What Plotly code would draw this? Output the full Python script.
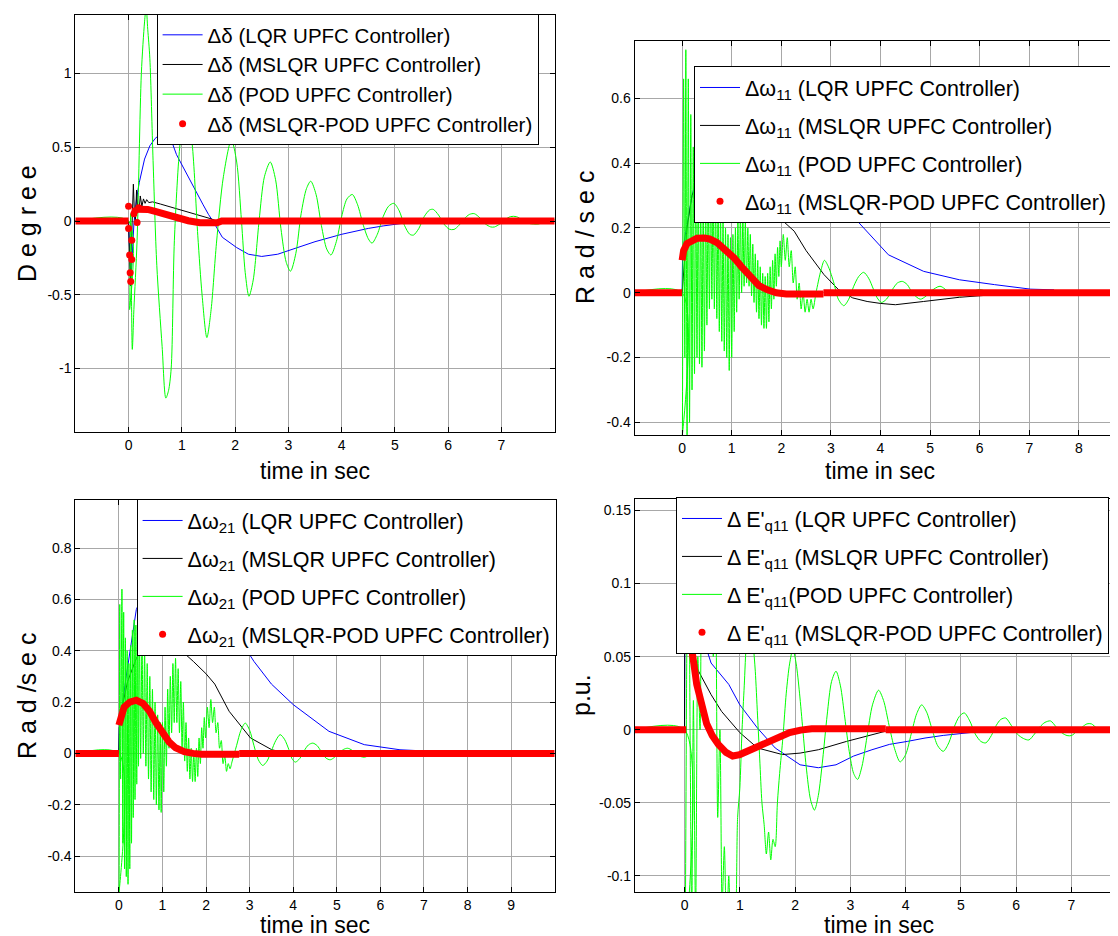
import plotly.graph_objects as go

# ---------------- DATA ----------------
# Top-left: Delta delta (Degree)
tl_blue_t = [-1, 0, 0.02, 0.04, 0.06, 0.1, 0.15, 0.2, 0.3, 0.4, 0.5, 0.6, 0.7, 0.8, 0.9, 1.0, 1.1, 1.2, 1.3, 1.4, 1.5, 1.6, 1.76, 2.03, 2.25, 2.5, 2.8, 3.1, 3.5, 4.0, 4.5, 4.78, 5.0, 5.3]
tl_blue_y = [0, 0, -0.2, -0.4, -0.3, -0.02, 0.15, 0.26, 0.42, 0.51, 0.56, 0.59, 0.6, 0.55, 0.45, 0.38, 0.31, 0.245, 0.18, 0.11, 0.045, -0.01, -0.11, -0.18, -0.225, -0.24, -0.225, -0.19, -0.14, -0.09, -0.05, -0.033, -0.022, -0.008]
tl_black_t = [-1, 0, 0.02, 0.035, 0.05, 0.07, 0.09, 0.11, 0.13, 0.15, 0.17, 0.2, 0.22, 0.25, 0.28, 0.31, 0.34, 0.38, 0.45, 0.6, 0.8, 1.0, 1.2, 1.4, 1.55, 1.65, 8]
tl_black_y = [0, 0, -0.25, -0.44, -0.2, 0.1, 0.25, 0.05, 0.0, 0.21, 0.1, 0.08, 0.17, 0.1, 0.15, 0.12, 0.145, 0.125, 0.13, 0.115, 0.095, 0.075, 0.055, 0.033, 0.015, 0.0, 0]
tl_green_t = [-1, 0, 0.02, 0.04, 0.07, 0.1, 0.16, 0.24, 0.3, 0.33, 0.36, 0.4, 0.46, 0.53, 0.63, 0.7, 0.75, 0.8, 0.86, 0.96, 1.08, 1.2, 1.3, 1.38, 1.47, 1.55, 1.65, 1.78, 1.93, 2.03, 2.12, 2.19, 2.26, 2.34, 2.45, 2.55, 2.66, 2.76, 2.86, 2.96, 3.04, 3.14, 3.24, 3.34, 3.42, 3.52, 3.62, 3.72, 3.8, 3.9, 4.0, 4.1, 4.2, 4.3, 4.4, 4.5, 4.57, 4.67, 4.78, 4.88, 4.98, 5.08, 5.18, 5.28, 5.35, 5.45, 5.55, 5.65, 5.72, 5.82, 5.92, 6.02, 6.11, 6.2, 6.3, 6.4, 6.49, 6.6, 6.7, 6.8, 6.87, 6.97, 7.07, 7.17, 7.28, 7.4, 7.5, 7.6, 7.7, 7.8, 7.9, 8.0]
tl_green_y = [0, 0, -0.6, 0.05, -0.87, -0.6, -0.13, 1.0, 1.35, 1.45, 1.3, 1.1, 0.41, -0.3, -0.85, -1.2, -1.15, -1.0, -0.13, 0.5, 0.85, 0.5, -0.1, -0.5, -0.79, -0.6, -0.15, 0.3, 0.55, 0.4, 0.0, -0.35, -0.51, -0.4, 0.0, 0.3, 0.40, 0.28, -0.05, -0.28, -0.34, -0.22, 0.05, 0.22, 0.27, 0.18, -0.03, -0.19, -0.23, -0.14, 0.03, 0.15, 0.18, 0.11, -0.02, -0.12, -0.15, -0.09, 0.03, 0.1, 0.12, 0.07, -0.03, -0.09, -0.095, -0.05, 0.03, 0.075, 0.079, 0.04, -0.02, -0.055, -0.057, -0.03, 0.015, 0.045, 0.05, 0.02, -0.02, -0.04, -0.04, -0.02, 0.01, 0.03, 0.03, 0.005, -0.015, -0.02, -0.02, -0.005, 0.01, 0.01]
tl_red_t = [-1, 0, None, 0.15, 0.25, 0.36, 0.5, 0.65, 0.81, 1.0, 1.12, 1.34, 1.5, 1.66, 1.75, 8]
tl_red_y = [0, 0, None, 0.08, 0.085, 0.079, 0.065, 0.048, 0.034, 0.012, 0.002, -0.012, -0.014, -0.012, 0.0, 0]
tl_dots_t = [0.0, 0.0, 0.02, 0.03, 0.04, 0.06, 0.06, 0.1, 0.12, 0.16, 0.19]
tl_dots_y = [0.1, -0.05, -0.23, -0.35, -0.41, -0.13, -0.26, 0.05, 0.07, -0.01, 0.09]

# Top-right: Delta omega 11 (Rad/sec)
tr_blue_t = [-1, 0, 0.01, 0.2, 0.4, 0.6, 0.8, 1.0, 1.08, 1.36, 1.65, 2.0, 2.5, 3.0, 3.3, 3.66, 4.16, 4.87, 5.59, 6.3, 7.03, 7.5]
tr_blue_y = [0, 0, 0.13, 0.3, 0.42, 0.52, 0.6, 0.66, 0.678, 0.695, 0.678, 0.62, 0.47, 0.33, 0.26, 0.2, 0.117, 0.066, 0.04, 0.025, 0.011, 0.009]
tr_black_t = [-1, 0, 0.1, 0.2, 0.4, 0.6, 0.8, 1.0, 1.3, 1.6, 1.9, 2.26, 2.5, 2.86, 3.15, 3.44, 3.73, 4.0, 4.3, 4.87, 5.59, 6.3, 6.8]
tr_black_y = [0, 0, 0.2, 0.3, 0.37, 0.39, 0.39, 0.37, 0.34, 0.29, 0.24, 0.19, 0.13, 0.056, 0.01, -0.016, -0.027, -0.033, -0.037, -0.027, -0.014, -0.006, -0.002]
tr_green_t = [-1, 0, 0.005, 0.03, 0.055, 0.075, 0.1, 0.125, 0.15, 0.175, 0.2, 0.225, 0.25, 0.275, 0.3, 0.325, 0.35, 0.375, 0.4, 0.425, 0.45, 0.475, 0.5, 0.525, 0.55, 0.575, 0.6, 0.625, 0.65, 0.675, 0.7, 0.725, 0.75, 0.775, 0.8, 0.825, 0.85, 0.875, 0.9, 0.925, 0.95, 0.975, 1.0, 1.025, 1.05, 1.075, 1.1, 1.125, 1.15, 1.175, 1.2, 1.225, 1.25, 1.275, 1.3, 1.325, 1.35, 1.375, 1.4, 1.425, 1.45, 1.475, 1.5, 1.525, 1.55, 1.575, 1.6, 1.625, 1.65, 1.675, 1.7, 1.725, 1.75, 1.775, 1.8, 1.825, 1.85, 1.875, 1.9, 1.925, 1.95, 1.975, 2.0, 2.04, 2.08, 2.12, 2.16, 2.2, 2.24, 2.28, 2.32, 2.36, 2.4, 2.44, 2.48, 2.52, 2.56, 2.6, 2.64, 2.7, 2.8, 2.87, 2.95, 3.06, 3.15, 3.26, 3.36, 3.46, 3.56, 3.66, 3.76, 3.86, 3.93, 4.02, 4.12, 4.24, 4.34, 4.44, 4.54, 4.64, 4.8, 4.92, 5.02, 5.2, 5.4, 5.6, 5.8, 6.0, 6.2, 6.4, 6.7]
tr_green_y = [0, 0, -0.44, 0.66, -0.2, 0.75, -0.44, 0.66, -0.40, 0.55, -0.30, 0.45, -0.25, 0.40, -0.20, 0.35, -0.22, 0.30, -0.23, 0.28, -0.18, 0.30, -0.10, 0.32, -0.05, 0.35, -0.02, 0.33, -0.05, 0.30, -0.08, 0.28, -0.12, 0.25, -0.15, 0.22, -0.18, 0.20, -0.20, 0.18, -0.24, 0.17, -0.20, 0.18, -0.12, 0.20, -0.06, 0.22, -0.02, 0.25, 0.0, 0.24, 0.02, 0.22, 0.03, 0.20, 0.02, 0.18, -0.01, 0.15, -0.03, 0.12, -0.06, 0.10, -0.08, 0.08, -0.10, 0.06, -0.11, 0.05, -0.11, 0.06, -0.09, 0.08, -0.05, 0.10, -0.02, 0.12, 0.02, 0.14, 0.05, 0.16, 0.08, 0.18, 0.10, 0.17, 0.08, 0.13, 0.03, 0.08, -0.02, 0.03, -0.05, 0.0, -0.06, -0.02, -0.06, -0.02, -0.05, 0.0, 0.07, 0.10, 0.08, 0.03, -0.02, -0.04, -0.02, 0.02, 0.05, 0.063, 0.045, 0.01, -0.015, -0.03, -0.02, 0.01, 0.03, 0.035, 0.025, 0.0, -0.02, -0.01, 0.005, 0.02, 0.0, -0.01, 0.0, 0.01, 0.0, -0.005, 0.0]
tr_red_t = [-1, 0, None, 0, 0.03, 0.1, 0.2, 0.3, 0.45, 0.55, 0.7, 0.86, 1.05, 1.2, 1.39, 1.55, 1.72, 1.9, 2.1, 2.85, None, 2.85, 9]
tr_red_y = [0, 0, None, 0.10, 0.13, 0.152, 0.163, 0.168, 0.169, 0.166, 0.155, 0.135, 0.107, 0.08, 0.045, 0.022, 0.009, 0.0, -0.004, -0.004, None, 0, 0]

# Bottom-left: Delta omega 21 (Rad/sec)
bl_blue_t = [-1, 0, 0.01, 0.16, 0.4, 0.7, 1.0, 1.4, 1.8, 2.2, 2.6, 3.1, 3.5, 4.0, 4.82, 5.63, 6.45, 7.19]
bl_blue_y = [0, 0, 0.1, 0.29, 0.56, 0.68, 0.74, 0.76, 0.72, 0.62, 0.49, 0.358, 0.27, 0.19, 0.086, 0.034, 0.014, 0.008]
bl_black_t = [-1, 0, 0.01, 0.1, 0.2, 0.4, 0.6, 0.9, 1.2, 1.5, 1.71, 2.0, 2.2, 2.53, 3.02, 3.51, 4.0, 4.82, 5.63, 6.45, 6.9]
bl_black_y = [0, 0, 0.1, 0.2, 0.28, 0.37, 0.42, 0.44, 0.43, 0.39, 0.358, 0.31, 0.27, 0.164, 0.06, 0.014, -0.005, -0.01, -0.005, -0.003, -0.001]
bl_green_t = [-1, 0, 0.005, 0.02, 0.04, 0.07, 0.09, 0.11, 0.13, 0.15, 0.17, 0.19, 0.21, 0.23, 0.25, 0.27, 0.29, 0.31, 0.33, 0.35, 0.37, 0.39, 0.41, 0.43, 0.45, 0.47, 0.50, 0.53, 0.56, 0.59, 0.62, 0.65, 0.68, 0.71, 0.74, 0.77, 0.80, 0.83, 0.86, 0.89, 0.92, 0.95, 0.97, 1.00, 1.03, 1.06, 1.09, 1.12, 1.15, 1.18, 1.21, 1.24, 1.27, 1.30, 1.33, 1.36, 1.39, 1.42, 1.45, 1.48, 1.51, 1.54, 1.57, 1.60, 1.63, 1.66, 1.69, 1.72, 1.75, 1.78, 1.81, 1.84, 1.87, 1.90, 1.93, 1.96, 1.99, 2.03, 2.07, 2.11, 2.15, 2.19, 2.23, 2.27, 2.31, 2.35, 2.39, 2.43, 2.47, 2.51, 2.55, 2.6, 2.7, 2.8, 2.9, 3.0, 3.1, 3.2, 3.3, 3.4, 3.5, 3.6, 3.7, 3.8, 3.9, 3.97, 4.05, 4.15, 4.25, 4.35, 4.45, 4.55, 4.65, 4.75, 4.85, 4.95, 5.05, 5.15, 5.25, 5.35, 5.45, 5.63, 5.8, 6.05, 6.3, 6.5, 6.7]
bl_green_y = [0, 0, -0.54, 0.58, -0.1, 0.64, -0.35, 0.55, -0.45, 0.45, -0.48, 0.40, -0.51, 0.35, -0.45, 0.42, -0.35, 0.48, -0.25, 0.52, -0.18, 0.50, -0.12, 0.48, -0.05, 0.50, -0.02, 0.45, 0.0, 0.40, -0.05, 0.35, -0.10, 0.30, -0.15, 0.25, -0.18, 0.20, -0.20, 0.15, -0.22, 0.12, -0.23, 0.12, -0.15, 0.18, -0.05, 0.25, 0.02, 0.30, 0.08, 0.35, 0.12, 0.37, 0.12, 0.33, 0.08, 0.28, 0.02, 0.20, -0.03, 0.12, -0.07, 0.06, -0.10, 0.02, -0.11, 0.0, -0.11, 0.02, -0.09, 0.06, -0.04, 0.10, 0.02, 0.14, 0.06, 0.18, 0.10, 0.21, 0.12, 0.18, 0.08, 0.12, 0.02, 0.05, -0.04, -0.01, -0.07, -0.04, -0.06, -0.03, 0.03, 0.09, 0.118, 0.09, 0.03, -0.025, -0.047, -0.03, 0.01, 0.05, 0.073, 0.055, 0.015, -0.02, -0.034, -0.02, 0.01, 0.033, 0.04, 0.03, 0.005, -0.018, -0.025, -0.015, 0.0, 0.015, 0.02, 0.012, -0.005, -0.015, -0.003, 0.01, 0.0, -0.005, 0.0]
bl_red_t = [-1, 0, None, 0, 0.05, 0.12, 0.25, 0.4, 0.55, 0.7, 0.85, 1.0, 1.15, 1.3, 1.5, 1.7, 1.9, 2.76, None, 2.76, 10]
bl_red_y = [0, 0, None, 0.11, 0.15, 0.18, 0.2, 0.207, 0.195, 0.165, 0.12, 0.08, 0.045, 0.022, 0.007, 0.0, -0.003, -0.003, None, 0, 0]

# Bottom-right: Delta E'q11 (p.u.)
br_blue_t = [-0.9, 0, 0.005, 0.2, 0.4, 0.48, 0.8, 1.0, 1.32, 1.64, 2.09, 2.42, 2.74, 3.06, 3.39, 3.71, 4.03, 4.35, 4.68, 5.0, 5.26]
br_blue_y = [0, 0, 0.1, 0.075, 0.055, 0.0456, 0.031, 0.017, 0.0011, -0.0125, -0.024, -0.026, -0.024, -0.018, -0.0137, -0.010, -0.008, -0.0057, -0.0039, -0.0025, -0.0016]
br_black_t = [-0.9, 0, 0.005, 0.08, 0.155, 0.48, 0.67, 1.0, 1.32, 1.77, 2.09, 2.42, 2.93, 3.26, 3.58, 3.64]
br_black_y = [0, 0, 0.1, 0.065, 0.047, 0.024, 0.0125, -0.002, -0.0125, -0.017, -0.016, -0.0137, -0.008, -0.0046, -0.0016, -0.001]
br_green_t = [-0.9, 0, 0.01, 0.04, 0.07, 0.1, 0.13, 0.16, 0.2, 0.24, 0.28, 0.32, 0.36, 0.4, 0.44, 0.48, 0.52, 0.56, 0.6, 0.64, 0.68, 0.72, 0.76, 0.8, 0.84, 0.88, 0.92, 0.96, 1.0, 1.04, 1.08, 1.12, 1.16, 1.2, 1.24, 1.28, 1.32, 1.36, 1.4, 1.44, 1.48, 1.52, 1.56, 1.6, 1.64, 1.68, 1.72, 1.78, 1.84, 1.9, 1.96, 2.02, 2.08, 2.14, 2.2, 2.28, 2.35, 2.42, 2.5, 2.58, 2.66, 2.74, 2.82, 2.9, 2.98, 3.06, 3.13, 3.21, 3.3, 3.4, 3.51, 3.6, 3.7, 3.8, 3.9, 4.0, 4.1, 4.2, 4.29, 4.38, 4.48, 4.58, 4.68, 4.78, 4.88, 4.97, 5.06, 5.16, 5.26, 5.36, 5.45, 5.55, 5.64, 5.72, 5.81, 5.91, 6.02, 6.13, 6.23, 6.33, 6.43, 6.52, 6.62, 6.72, 6.82, 6.92, 7.0, 7.1, 7.2, 7.28, 7.36, 7.46, 7.56, 7.66, 7.75, 7.9]
br_green_y = [0, 0, -0.15, 0.05, 0.17, 0.0, -0.13, 0.02, -0.13, 0.05, 0.0, 0.17, 0.12, 0.18, 0.15, 0.17, 0.05, 0.1, -0.06, 0.0, -0.12, -0.08, -0.14, -0.1, -0.15, -0.12, -0.13, -0.06, -0.04, 0.0, 0.03, 0.06, 0.07, 0.08, 0.06, 0.04, 0.01, -0.02, -0.05, -0.065, -0.085, -0.07, -0.089, -0.075, -0.08, -0.05, -0.03, -0.005, 0.025, 0.045, 0.055, 0.045, 0.025, 0.0, -0.025, -0.048, -0.055, -0.045, -0.02, 0.01, 0.033, 0.04, 0.03, 0.008, -0.015, -0.03, -0.034, -0.025, -0.005, 0.017, 0.027, 0.02, 0.003, -0.013, -0.022, -0.017, -0.003, 0.011, 0.017, 0.012, 0.0, -0.011, -0.0148, -0.009, 0.002, 0.009, 0.0115, 0.006, -0.003, -0.008, -0.009, -0.004, 0.003, 0.007, 0.008, 0.003, -0.003, -0.006, -0.007, -0.003, 0.002, 0.005, 0.006, 0.002, -0.002, -0.004, -0.004, -0.001, 0.002, 0.004, 0.004, 0.001, -0.001, -0.001, -0.001, 0.0]
br_red_t = [-0.9, 0.03, None, 0.05, 0.1, 0.15, 0.22, 0.3, 0.4, 0.5, 0.61, 0.75, 0.87, 1.0, 1.12, 1.3, 1.51, 1.7, 1.9, 2.1, 2.3, 3.64, None, 3.64, 7.95]
br_red_y = [0, 0, None, 0.075, 0.065, 0.05, 0.031, 0.017, 0.004, -0.004, -0.01, -0.0155, -0.018, -0.017, -0.015, -0.0115, -0.008, -0.0045, -0.002, -0.0003, 0.0007, 0.0007, None, 0, 0]

# Ticks
tl_xticks = [0, 1, 2, 3, 4, 5, 6, 7]
tl_yticks = [-1, -0.5, 0, 0.5, 1]
tl_ylabels = ["-1", "-0.5", "0", "0.5", "1"]
tr_xticks = [0, 1, 2, 3, 4, 5, 6, 7, 8]
tr_yticks = [-0.4, -0.2, 0, 0.2, 0.4, 0.6]
tr_ylabels = ["-0.4", "-0.2", "0", "0.2", "0.4", "0.6"]
bl_xticks = [0, 1, 2, 3, 4, 5, 6, 7, 8, 9]
bl_yticks = [-0.4, -0.2, 0, 0.2, 0.4, 0.6, 0.8]
bl_ylabels = ["-0.4", "-0.2", "0", "0.2", "0.4", "0.6", "0.8"]
br_xticks = [0, 1, 2, 3, 4, 5, 6, 7]
br_yticks = [-0.1, -0.05, 0, 0.05, 0.1, 0.15]
br_ylabels = ["-0.1", "-0.05", "0", "0.05", "0.1", "0.15"]

tl_names = ["Δδ (LQR UPFC Controller)", "Δδ (MSLQR UPFC Controller)", "Δδ (POD UPFC Controller)", "Δδ (MSLQR-POD UPFC Controller)"]
tr_names = ["Δω<sub>11</sub> (LQR UPFC Controller)", "Δω<sub>11</sub> (MSLQR UPFC Controller)", "Δω<sub>11</sub> (POD UPFC Controller)", "Δω<sub>11</sub> (MSLQR-POD UPFC Controller)"]
bl_names = ["Δω<sub>21</sub> (LQR UPFC Controller)", "Δω<sub>21</sub> (MSLQR UPFC Controller)", "Δω<sub>21</sub> (POD UPFC Controller)", "Δω<sub>21</sub> (MSLQR-POD UPFC Controller)"]
br_names = ["Δ E'<sub>q11</sub> (LQR UPFC Controller)", "Δ E'<sub>q11</sub> (MSLQR UPFC Controller)", "Δ E'<sub>q11</sub>(POD UPFC Controller)", "Δ E'<sub>q11</sub> (MSLQR-POD UPFC Controller)"]

# ---------------- FIGURE ----------------
W, H = 1118, 936
FONT = "Arial, Liberation Sans, sans-serif"
BLUE, BLACK, GREEN, RED = "#0000ff", "#000000", "#00ff00", "#ff0000"

fig = go.Figure()

panels = [
    dict(sfx="", leg="legend", names=tl_names,
         blue=(tl_blue_t, tl_blue_y), black=(tl_black_t, tl_black_y),
         green=(tl_green_t, tl_green_y), red=(tl_red_t, tl_red_y)),
    dict(sfx="2", leg="legend2", names=tr_names,
         blue=(tr_blue_t, tr_blue_y), black=(tr_black_t, tr_black_y),
         green=(tr_green_t, tr_green_y), red=(tr_red_t, tr_red_y)),
    dict(sfx="3", leg="legend3", names=bl_names,
         blue=(bl_blue_t, bl_blue_y), black=(bl_black_t, bl_black_y),
         green=(bl_green_t, bl_green_y), red=(bl_red_t, bl_red_y)),
    dict(sfx="4", leg="legend4", names=br_names,
         blue=(br_blue_t, br_blue_y), black=(br_black_t, br_black_y),
         green=(br_green_t, br_green_y), red=(br_red_t, br_red_y)),
]

for p in panels:
    xa, ya = "x" + p["sfx"], "y" + p["sfx"]
    nm = p["names"]
    fig.add_trace(go.Scatter(x=p["blue"][0], y=p["blue"][1], mode="lines", name=nm[0],
                             line=dict(color=BLUE, width=1), xaxis=xa, yaxis=ya,
                             legend=p["leg"], legendgroup=p["leg"] + "a"))
    fig.add_trace(go.Scatter(x=p["black"][0], y=p["black"][1], mode="lines", name=nm[1],
                             line=dict(color=BLACK, width=1), xaxis=xa, yaxis=ya,
                             legend=p["leg"], legendgroup=p["leg"] + "b"))
    fig.add_trace(go.Scatter(x=p["green"][0], y=p["green"][1], mode="lines", name=nm[2],
                             line=dict(color=GREEN, width=1, shape="spline", smoothing=0.8),
                             xaxis=xa, yaxis=ya, legend=p["leg"], legendgroup=p["leg"] + "c"))
    fig.add_trace(go.Scatter(x=p["red"][0], y=p["red"][1], mode="lines", showlegend=False,
                             line=dict(color=RED, width=7), xaxis=xa, yaxis=ya,
                             connectgaps=False, legendgroup=p["leg"] + "d"))
    if p["sfx"] == "":
        fig.add_trace(go.Scatter(x=tl_dots_t, y=tl_dots_y, mode="markers", showlegend=False,
                                 marker=dict(color=RED, size=7), xaxis=xa, yaxis=ya))
    fig.add_trace(go.Scatter(x=[None], y=[None], mode="markers", name=nm[3],
                             marker=dict(color=RED, size=7), xaxis=xa, yaxis=ya,
                             legend=p["leg"], legendgroup=p["leg"] + "d"))

def px_x(v):
    return v / W

def px_y(v):
    return 1 - v / H

axis_common = dict(showline=True, linecolor="black", linewidth=1, mirror="ticks",
                   ticks="inside", ticklen=5, tickcolor="black", showgrid=True,
                   gridcolor="#a8a8a8", gridwidth=1, zeroline=False,
                   tickfont=dict(family=FONT, size=14, color="black"))

layout_axes = {
    "xaxis": dict(domain=[px_x(67.3), px_x(546.7)], range=[-1, 8], tickvals=tl_xticks, anchor="y", **axis_common),
    "yaxis": dict(domain=[px_y(424), px_y(6.5)], range=[-1.43, 1.40], tickvals=tl_yticks, ticktext=tl_ylabels, anchor="x", **axis_common),
    "xaxis2": dict(domain=[px_x(626.5), 1.0], range=[-0.96, 8.95], tickvals=tr_xticks, anchor="y2", **axis_common),
    "yaxis2": dict(domain=[px_y(427.3), px_y(33.3)], range=[-0.44, 0.776], tickvals=tr_yticks, ticktext=tr_ylabels, anchor="x2", **axis_common),
    "xaxis3": dict(domain=[px_x(67.3), px_x(546.7)], range=[-1, 10], tickvals=bl_xticks, anchor="y3", **axis_common),
    "yaxis3": dict(domain=[px_y(884), px_y(492)], range=[-0.54, 0.987], tickvals=bl_yticks, ticktext=bl_ylabels, anchor="x3", **axis_common),
    "xaxis4": dict(domain=[px_x(626.8), px_x(1116)], range=[-0.9, 7.95], tickvals=br_xticks, anchor="y4", **axis_common),
    "yaxis4": dict(domain=[px_y(884), px_y(490.7)], range=[-0.111, 0.158], tickvals=br_yticks, ticktext=br_ylabels, anchor="x4", **axis_common),
}

def legend_style(x, y, size, gap):
    return dict(x=x, y=y, bgcolor="white", bordercolor="black", borderwidth=1,
                font=dict(family=FONT, size=size, color="black"),
                xanchor="left", yanchor="top", tracegroupgap=gap, itemwidth=40)

annotations = []
def add_title(text, x, y, angle=0, size=23):
    annotations.append(dict(text=text, x=x, y=y, xref="paper", yref="paper",
                            showarrow=False, textangle=angle, xanchor="center", yanchor="middle",
                            font=dict(family=FONT, size=size, color="black")))

add_title("time in sec", px_x(307), px_y(463))
add_title("time in sec", px_x(872), px_y(463))
add_title("time in sec", px_x(307), px_y(917))
add_title("time in sec", px_x(871), px_y(917))
add_title("D e g r e e", px_x(19), px_y(216), angle=-90, size=25)
add_title("R a d / s e c", px_x(577), px_y(230), angle=-90, size=25)
add_title("R a d /s e c", px_x(19), px_y(688), angle=-90, size=25)
add_title("p.u.", px_x(573), px_y(687), angle=-90, size=25)

fig.update_layout(
    width=W, height=H, margin=dict(l=0, r=0, t=0, b=0),
    paper_bgcolor="white", plot_bgcolor="white",
    font=dict(family=FONT, color="black"),
    legend=legend_style(px_x(148.6), px_y(6), 20.5, 0),
    legend2=legend_style(px_x(686), px_y(58), 21.5, 7),
    legend3=legend_style(px_x(128.6), px_y(491), 21.5, 7),
    legend4=legend_style(px_x(668), px_y(489), 21.5, 7),
    annotations=annotations,
    **layout_axes,
)

fig.write_html("out.html")
